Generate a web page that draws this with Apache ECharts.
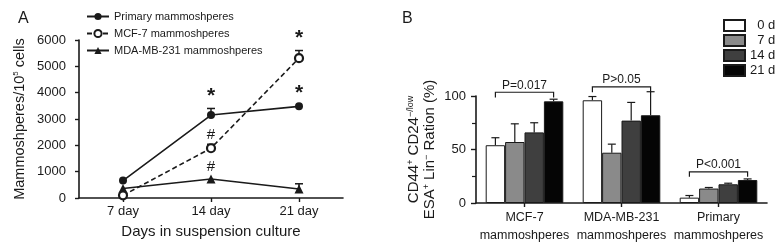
<!DOCTYPE html>
<html>
<head>
<meta charset="utf-8">
<script src="https://cdn.jsdelivr.net/npm/echarts@6/dist/echarts.min.js"></script>
<style>
  html, body { margin: 0; padding: 0; background: #fff; }
  #chart { width: 778px; height: 245px; }
</style>
</head>
<body>
<div id="chart"></div>
<script>
// Panel A: mammosphere counts over time
const days = ['7 day', '14 day', '21 day'];
const primaryMean = [660, 3150, 3480];
const primaryTop = [660, 3400, 3510];
const mcf7Mean = [100, 1890, 5310];
const mcf7Top = [100, 2040, 5600];
const mdaMean = [360, 720, 340];
const mdaTop = [360, 720, 540];
// significance marks [day index, value, symbol]
const marksA = [[1, 3850, '*'], [2, 6060, '*'], [2, 3990, '*'], [1, 2400, '#'], [1, 1190, '#']];

// Panel B: CD44+ CD24-/low ratio
const groups = ['MCF-7\nmammoshperes', 'MDA-MB-231\nmammoshperes', 'Primary\nmammoshperes'];
const dayNames = ['0 d', '7 d', '14 d', '21 d'];
const dayColors = ['#ffffff', '#8a8a8a', '#3f3f3f', '#050505'];
const ratioMean = [[54, 96, 5], [57, 47, 13.5], [66, 77, 17.5], [95, 82, 21.5]];
const ratioTop = [[61, 99.5, 7], [74, 55, 14.5], [75, 94, 18.5], [97, 104, 22.5]];
// brackets: [group, top value, leg end value]
const brackets = [[0, 103.5, 98.5], [1, 108.5, 103.5], [2, 29, 24.5]];
const bracketText = ['P=0.017', 'P>0.05', 'P<0.001'];

const FONT = '"Liberation Sans", Arial, sans-serif';
const INK = '#1a1a1a';

const chart = echarts.init(document.getElementById('chart'));

// error bars for panel A: [day, mean, top]
function errA(mean, top) {
  return mean.map((m, i) => [i, m, top[i]]);
}

function renderErrA(params, api) {
  const p = api.coord([api.value(0), api.value(1)]);
  const t = api.coord([api.value(0), api.value(2)]);
  if (Math.abs(p[1] - t[1]) < 1) return null;
  return {
    type: 'group',
    children: [
      { type: 'line', shape: { x1: p[0], y1: p[1], x2: t[0], y2: t[1] }, style: { stroke: INK, lineWidth: 1.5 } },
      { type: 'line', shape: { x1: t[0] - 4, y1: t[1], x2: t[0] + 4, y2: t[1] }, style: { stroke: INK, lineWidth: 1.5 } }
    ]
  };
}

function renderMarkA(params, api) {
  const p = api.coord([api.value(0), api.value(1)]);
  const s = marksA[params.dataIndex][2];
  return {
    type: 'text', x: p[0], y: p[1],
    style: {
      text: s, fill: INK, align: 'center', verticalAlign: 'middle',
      font: (s === '*' ? 'bold 21px ' : '15px ') + FONT
    }
  };
}

// bar width helper for panel B (4 bars per group, 20% gap)
function barW(api) {
  return api.size([1, 0])[0] * 0.8 / 4;
}

const errBData = [];
for (let d = 0; d < 4; d++) {
  for (let g = 0; g < 3; g++) {
    errBData.push([g, d, ratioMean[d][g], ratioTop[d][g]]);
  }
}

function renderErrB(params, api) {
  const g = api.value(0), d = api.value(1);
  const w = barW(api);
  const p = api.coord([g, api.value(2)]);
  const t = api.coord([g, api.value(3)]);
  const x = p[0] + (d - 1.5) * w;
  return {
    type: 'group',
    children: [
      { type: 'line', shape: { x1: x, y1: p[1], x2: x, y2: t[1] }, style: { stroke: INK, lineWidth: 1.2 } },
      { type: 'line', shape: { x1: x - 4, y1: t[1], x2: x + 4, y2: t[1] }, style: { stroke: INK, lineWidth: 1.2 } }
    ]
  };
}

function renderBracket(params, api) {
  const g = api.value(0);
  const top = api.coord([g, api.value(1)]);
  const leg = api.coord([g, api.value(2)]);
  const w = barW(api);
  const x1 = top[0] - 1.5 * w, x2 = top[0] + 1.5 * w;
  return {
    type: 'group',
    children: [
      {
        type: 'polyline',
        shape: { points: [[x1, leg[1]], [x1, top[1]], [x2, top[1]], [x2, leg[1]]] },
        style: { stroke: INK, fill: null, lineWidth: 1.2 }
      },
      {
        type: 'text', x: top[0], y: top[1] - 1,
        style: { text: bracketText[params.dataIndex], fill: INK, align: 'center', verticalAlign: 'bottom', font: '12px ' + FONT }
      }
    ]
  };
}

const axisLine = { show: true, lineStyle: { color: INK, width: 1.6 } };
const axisTick = { show: true, inside: false, length: 4, lineStyle: { color: INK, width: 1.4 } };
const labelStyle = { color: INK, fontFamily: FONT, fontSize: 13 };

const option = {
  animation: false,
  backgroundColor: '#fff',
  textStyle: { fontFamily: FONT },
  title: [
    { text: 'A', left: 13, top: 6, textStyle: { fontSize: 16, fontWeight: 'normal', color: INK, fontFamily: FONT } },
    { text: 'B', left: 397, top: 6, textStyle: { fontSize: 16, fontWeight: 'normal', color: INK, fontFamily: FONT } }
  ],
  legend: [
    {
      data: ['Primary mammoshperes', 'MCF-7 mammoshperes', 'MDA-MB-231 mammoshperes'],
      orient: 'vertical', left: 86, top: 11, padding: 0, itemWidth: 22, itemHeight: 9, itemGap: 6,
      textStyle: { fontSize: 11, color: INK, fontFamily: FONT }
    },
    {
      data: dayNames,
      orient: 'vertical', left: 723, top: 19, padding: 0, itemWidth: 21, itemHeight: 11, itemGap: 2, icon: 'rect',
      formatter: n => (n.length < 4 ? '\u2007' : '') + n,
      textStyle: { fontSize: 13, color: INK, fontFamily: FONT }
    }
  ],
  grid: [
    { left: 79, top: 40, width: 264, height: 158 },
    { left: 476, top: 96, width: 291, height: 108 }
  ],
  xAxis: [
    {
      gridIndex: 0, type: 'category', data: days, boundaryGap: true,
      axisLine: axisLine, axisTick: Object.assign({ alignWithLabel: true }, axisTick),
      axisLabel: Object.assign({ margin: 7 }, labelStyle),
      splitLine: { show: false },
      name: 'Days in suspension culture', nameLocation: 'middle', nameGap: 26,
      nameTextStyle: { fontSize: 15, color: INK, fontFamily: FONT }
    },
    {
      gridIndex: 1, type: 'category', data: groups, boundaryGap: true,
      axisLine: axisLine, axisTick: Object.assign({ alignWithLabel: true }, axisTick),
      axisLabel: Object.assign({}, labelStyle, { margin: 6, lineHeight: 18, interval: 0, fontSize: 12.5 }),
      splitLine: { show: false }
    }
  ],
  yAxis: [
    {
      gridIndex: 0, type: 'value', min: 0, max: 6000, interval: 1000,
      axisLine: axisLine, axisTick: axisTick,
      axisLabel: Object.assign({ margin: 13, formatter: v => String(v) }, labelStyle),
      splitLine: { show: false },
      name: 'Mammoshperes/10{sup|5} cells', nameLocation: 'middle', nameRotate: 90, nameGap: 52,
      nameTextStyle: {
        fontSize: 14.5, color: INK, fontFamily: FONT,
        rich: { sup: { fontSize: 8, verticalAlign: 'top', color: INK, fontFamily: FONT } }
      }
    },
    {
      gridIndex: 1, type: 'value', min: 0, max: 100, interval: 50,
      axisLine: axisLine, axisTick: Object.assign({}, axisTick, { length: 5 }),
      minorTick: { show: true, splitNumber: 2, length: 4, lineStyle: { color: INK, width: 1.2 } },
      axisLabel: Object.assign({ margin: 10 }, labelStyle),
      splitLine: { show: false }, minorSplitLine: { show: false },
      name: 'CD44{sup|+} CD24{sup|\u2212/low}\nESA{sup|+} Lin{sup|\u2212} Ration (%)',
      nameLocation: 'middle', nameRotate: 90, nameGap: 38,
      nameTextStyle: {
        fontSize: 15, color: INK, fontFamily: FONT, lineHeight: 16,
        rich: { sup: { fontSize: 9, verticalAlign: 'top', color: INK, fontFamily: FONT } }
      }
    }
  ],
  series: [
    { type: 'custom', xAxisIndex: 0, yAxisIndex: 0, renderItem: renderErrA, data: errA(primaryMean, primaryTop), encode: { x: 0, y: [1, 2] }, silent: true, z: 1 },
    { type: 'custom', xAxisIndex: 0, yAxisIndex: 0, renderItem: renderErrA, data: errA(mcf7Mean, mcf7Top), encode: { x: 0, y: [1, 2] }, silent: true, z: 1 },
    { type: 'custom', xAxisIndex: 0, yAxisIndex: 0, renderItem: renderErrA, data: errA(mdaMean, mdaTop), encode: { x: 0, y: [1, 2] }, silent: true, z: 1 },
    {
      name: 'Primary mammoshperes', type: 'line', xAxisIndex: 0, yAxisIndex: 0, data: primaryMean,
      symbol: 'circle', symbolSize: 8, color: INK,
      itemStyle: { color: INK }, lineStyle: { color: INK, width: 1.6 }, z: 3
    },
    {
      name: 'MCF-7 mammoshperes', type: 'line', xAxisIndex: 0, yAxisIndex: 0, data: mcf7Mean,
      symbol: 'circle', symbolSize: 8, color: INK, showAllSymbol: true,
      itemStyle: { color: '#fff', borderColor: INK, borderWidth: 2.2 },
      lineStyle: { color: INK, width: 1.6, type: [5, 3] }, z: 4
    },
    {
      name: 'MDA-MB-231 mammoshperes', type: 'line', xAxisIndex: 0, yAxisIndex: 0, data: mdaMean,
      symbol: 'triangle', symbolSize: 9, color: INK,
      itemStyle: { color: INK }, lineStyle: { color: INK, width: 1.6 }, z: 3
    },
    { type: 'custom', xAxisIndex: 0, yAxisIndex: 0, renderItem: renderMarkA, data: marksA.map(m => [m[0], m[1]]), clip: false, silent: true, z: 5 },

    ...dayNames.map((n, d) => ({
      name: n, type: 'bar', xAxisIndex: 1, yAxisIndex: 1, data: ratioMean[d],
      barGap: '0%', barCategoryGap: '20%',
      itemStyle: { color: dayColors[d], borderColor: INK, borderWidth: 1 }, z: 2
    })),
    { type: 'custom', xAxisIndex: 1, yAxisIndex: 1, renderItem: renderErrB, data: errBData, encode: { x: 0, y: [2, 3] }, clip: false, silent: true, z: 1 },
    { type: 'custom', xAxisIndex: 1, yAxisIndex: 1, renderItem: renderBracket, data: brackets, encode: { x: 0, y: [1, 2] }, clip: false, silent: true, z: 3 }
  ]
};

chart.setOption(option);
</script>
</body>
</html>
